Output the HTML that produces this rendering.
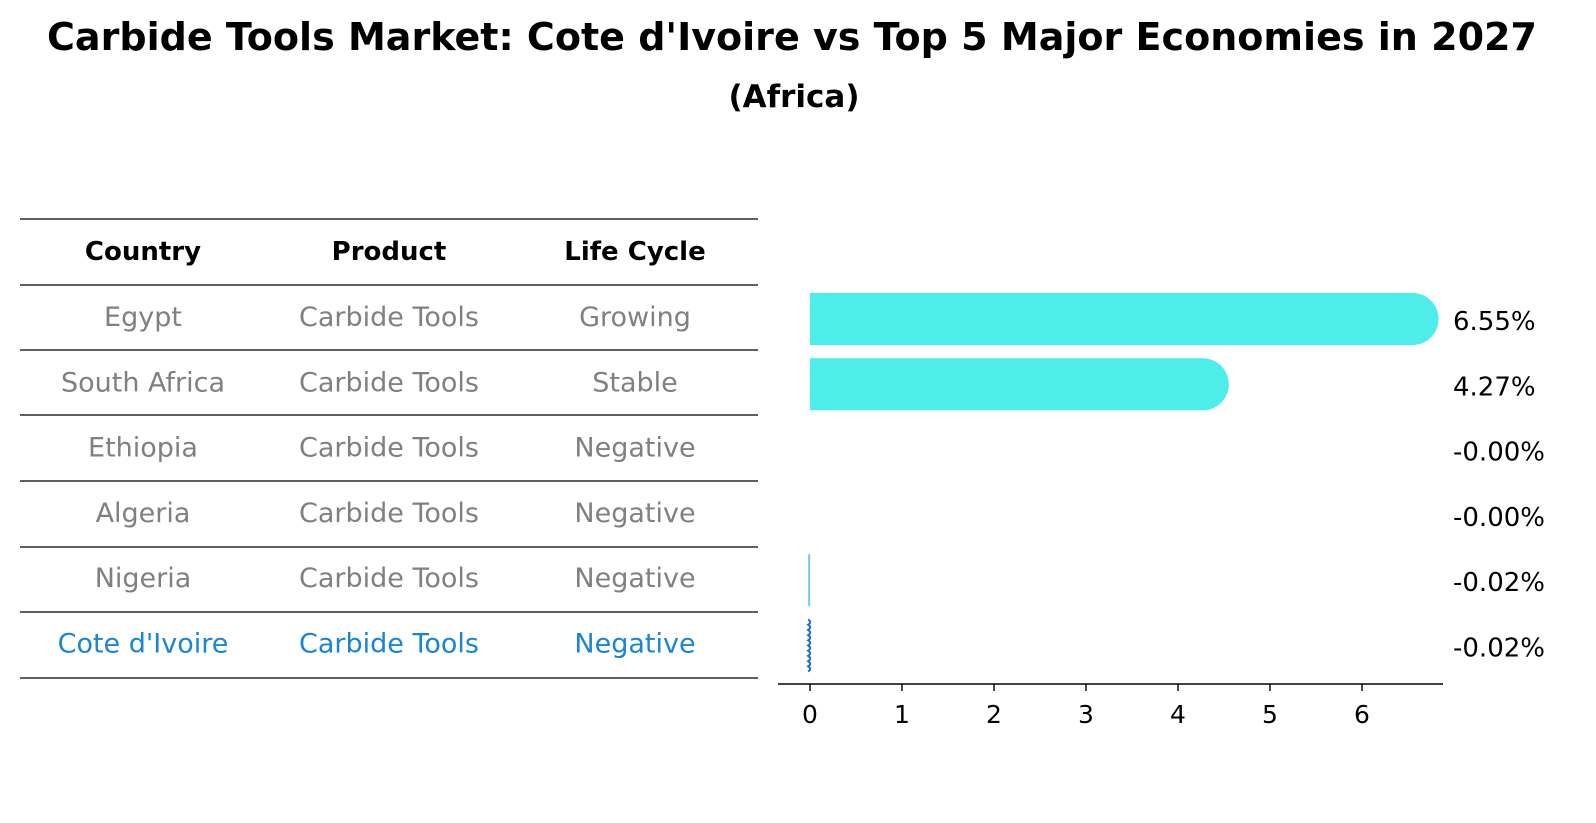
<!DOCTYPE html>
<html><head><meta charset="utf-8"><style>
html,body{margin:0;padding:0;background:#fff;}
svg{display:block;font-family:"DejaVu Sans","Liberation Sans",sans-serif;}
</style></head><body>
<svg id="chart" width="1596" height="823" viewBox="0 0 1596 823">
<text x="792" y="50" text-anchor="middle" font-size="38" font-weight="bold" textLength="1490" lengthAdjust="spacingAndGlyphs">Carbide Tools Market: Cote d'Ivoire vs Top 5 Major Economies in 2027</text>
<text x="794" y="107" text-anchor="middle" font-size="31" font-weight="bold">(Africa)</text>
<g id="table"></g>
<g id="bars"></g>
<g id="axis"></g>
</svg>
<script>
const countries = ["Egypt","South Africa","Ethiopia","Algeria","Nigeria","Cote d'Ivoire"];
const products = ["Carbide Tools","Carbide Tools","Carbide Tools","Carbide Tools","Carbide Tools","Carbide Tools"];
const lifeCycles = ["Growing","Stable","Negative","Negative","Negative","Negative"];
const values = [6.55,4.27,-0.001,-0.001,-0.02,-0.02];
const valueLabels = ["6.55%","4.27%","-0.00%","-0.00%","-0.02%","-0.02%"];
const xTicks = [0,1,2,3,4,5,6];

const NS = "http://www.w3.org/2000/svg";
function mk(tag, attrs, parent){const e=document.createElementNS(NS,tag);for(const k in attrs)e.setAttribute(k,attrs[k]);parent.appendChild(e);return e;}
const xs = v => 810 + v*92;
const rowY = i => 319 + i*65.3;

const table = document.getElementById('table');
const colX=[143,389,635];
const lineYs=[219,285,350,415,481,547,612,678];
lineYs.forEach((y,i)=>{
  const l=mk('line',{x1:20,x2:758,y1:y,y2:y,stroke:'#000','stroke-width':1.2},table);
  
  
});
["Country","Product","Life Cycle"].forEach((h,c)=>{
  const t=mk('text',{x:colX[c],y:260,'text-anchor':'middle','font-size':26,'font-weight':'bold'},table);
  t.textContent=h;
  
  
});
countries.forEach((cn,i)=>{
  const col = i===countries.length-1 ? '#1a85d6' : '#808080';
  [cn,products[i],lifeCycles[i]].forEach((txt,c)=>{
    const t=mk('text',{x:colX[c],y:rowY(i)+7,'text-anchor':'middle','font-size':27,fill:col},table);
    t.textContent=txt;
    
    
  });
});

const bars=document.getElementById('bars');
values.forEach((v,i)=>{
  const y=rowY(i), h=52, r=26;
  const x0=xs(0), x1=xs(v);
  if(v>0.05){
    const p=mk('path',{d:`M${x0},${y-h/2} L${x1},${y-h/2} A${r},${r} 0 0 1 ${x1},${y+h/2} L${x0},${y+h/2} Z`,fill:'#4deeea'},bars);
    
    
  } else if(i===countries.length-1){
    let d=`M${x1},${y-h/2}`;
    for(let k=0;k<10;k++){const yy=y-h/2+k*5.2;d+=` Q${x1+4},${yy+2.6} ${x1},${yy+5.2}`;}
    const p=mk('path',{d:d,fill:'none',stroke:'#1a6fd0','stroke-width':2},bars);
    
    
  } else if(v<=-0.01){
    const p=mk('line',{x1:x1+1,x2:x1+1,y1:y-h/2,y2:y+h/2,stroke:'#74c6f0','stroke-width':2},bars);
    
    
  }
  const t=mk('text',{x:1453,y:y+11,'font-size':26},bars);
  t.textContent=valueLabels[i];
  
  
});

const axis=document.getElementById('axis');
const al=mk('line',{x1:778,x2:1443,y1:684,y2:684,stroke:'#000','stroke-width':1.6},axis);


xTicks.forEach(v=>{
  const tk=mk('line',{x1:xs(v),x2:xs(v),y1:684,y2:691,stroke:'#000','stroke-width':1.4},axis);
  
  
  const t=mk('text',{x:xs(v),y:723,'text-anchor':'middle','font-size':25},axis);
  t.textContent=String(v);
  
  
});
</script>
</body></html>
